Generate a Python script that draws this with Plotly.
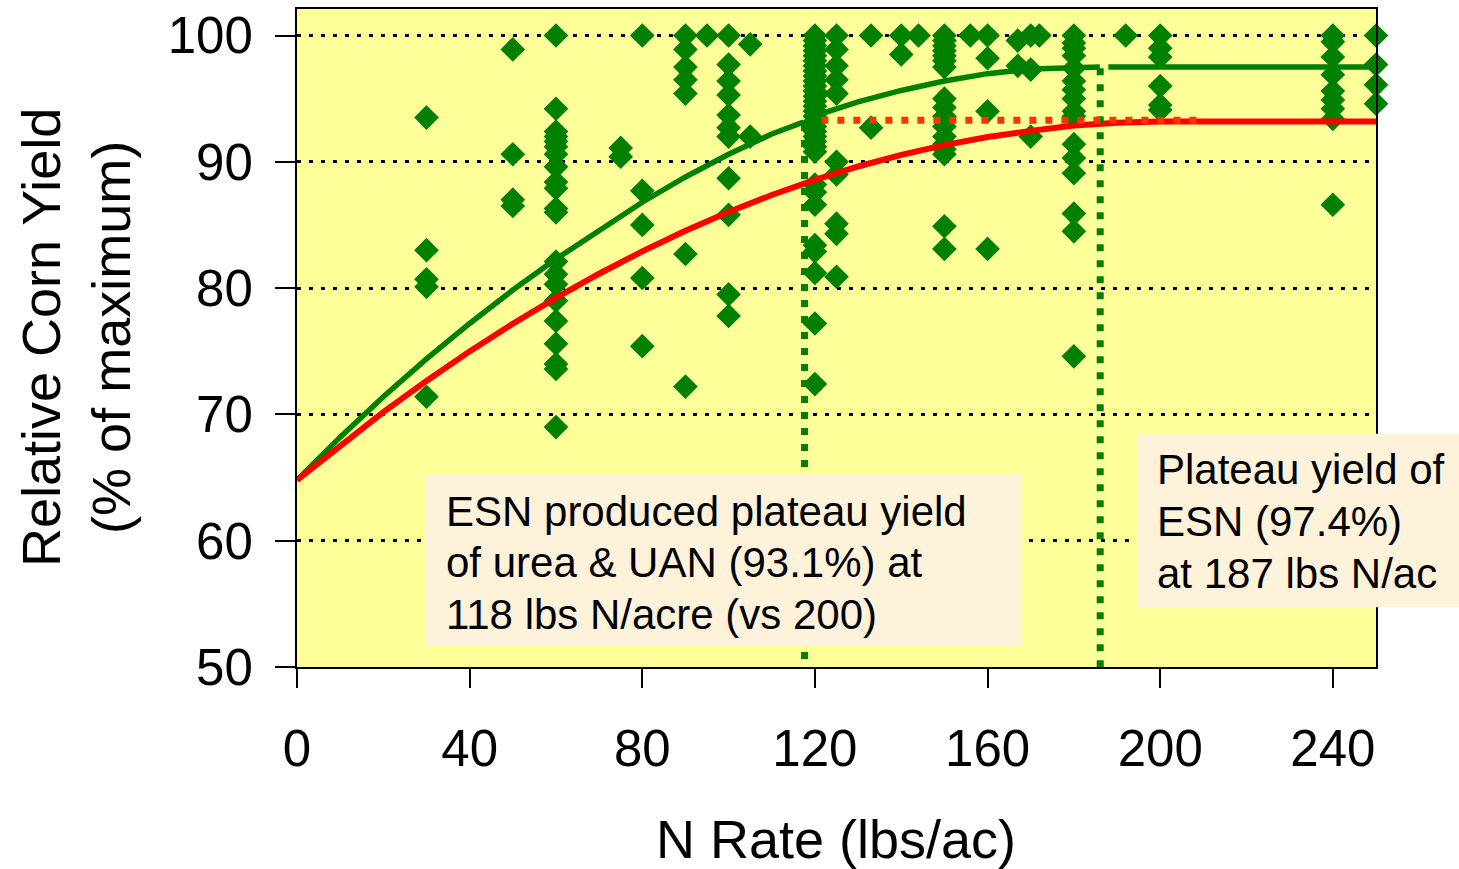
import plotly.graph_objects as go

# ---- scatter observations (N rate, relative yield %) ----
col_rates = [30, 50, 60, 75, 80, 90, 95, 100, 105, 120, 125, 133, 140, 144,
             150, 156, 160, 167, 170, 172, 180, 192, 200, 240, 250]
col_yields = [
    [93.5, 83.0, 80.7, 80.1, 71.4],
    [98.9, 90.6, 87.0, 86.5],
    [100, 94.2, 92.4, 92.0, 91.6, 91.2, 90.6, 89.6, 88.4, 87.9, 86.3, 86.0,
     82.1, 81.1, 80.3, 79.0, 77.4, 75.6, 74.0, 73.6, 69.0],
    [91.1, 90.4],
    [100, 87.7, 85.0, 80.8, 75.4],
    [100, 98.9, 97.5, 96.5, 95.4, 82.7, 72.2],
    [100],
    [100, 97.7, 96.4, 95.3, 93.7, 92.7, 92.0, 88.7, 85.8, 79.5, 77.8],
    [99.3, 92.0],
    [100, 99.6, 99.2, 98.8, 98.4, 98.0, 97.6, 97.2, 96.8, 96.4, 96.0, 95.6,
     95.2, 94.8, 94.4, 94.0, 93.6, 93.2, 92.8, 92.4, 92.0, 91.6, 91.2, 90.8,
     88.2, 87.6, 86.6, 83.4, 82.9, 81.2, 77.2, 72.4],
    [100, 98.9, 97.6, 96.5, 95.4, 90.0, 89.0, 85.1, 84.3, 80.9],
    [100, 92.7],
    [100, 98.5],
    [100],
    [100, 99.6, 99.2, 98.8, 98.4, 98.0, 97.5, 95.0, 94.3, 93.6, 92.8, 92.0,
     91.4, 91.0, 90.6, 84.9, 83.1],
    [100],
    [100, 98.2, 94.0, 83.1],
    [99.6, 97.6],
    [100, 97.3, 92.0],
    [100],
    [100, 99.4, 99.0, 98.4, 97.4, 96.4, 95.7, 95.0, 94.0, 93.6, 91.4, 90.3,
     89.1, 85.9, 84.5, 74.6],
    [100],
    [100, 99.0, 98.3, 96.0, 94.5, 94.1],
    [100, 99.5, 98.3, 96.9, 95.6, 94.9, 94.2, 93.4, 86.6],
    [100, 97.7, 96.1, 94.6],
]

# ---- fitted response curves ----
esn_x = [0, 10, 20, 30, 40, 50, 60, 70, 80, 90, 100, 110, 117, 119, 121,
         130, 140, 150, 160, 170, 180, 186, None, 188, 250]
esn_y = [64.8, 68.2, 71.4, 74.4, 77.2, 79.85, 82.3, 84.6, 86.8, 88.8, 90.6,
         92.2, 93.1, 92.85, 93.75, 94.75, 95.65, 96.4, 96.98, 97.35, 97.5, 97.5,
         None, 97.5, 97.5]
urea_x = [0, 10, 20, 30, 40, 50, 60, 70, 80, 90, 100, 110, 120, 130, 140,
          150, 160, 170, 180, 190, 200, 250]
urea_y = [64.8, 67.56, 70.18, 72.65, 74.99, 77.18, 79.23, 81.14, 82.91, 84.54,
          86.02, 87.37, 88.57, 89.63, 90.55, 91.32, 91.96, 92.45, 92.88, 93.1,
          93.2, 93.2]

# reference (drop) lines
esn_match_rate = [117.6, 117.6]
esn_match_yield = [93.0, 50]
esn_plateau_rate = [186.1, 186.1]
esn_plateau_yield = [97.4, 50]
urea_plateau_rate = [121.5, 208.5]
urea_plateau_yield = [93.3, 93.3]

x_ticks = [0, 40, 80, 120, 160, 200, 240]
y_ticks = [50, 60, 70, 80, 90, 100]

FONT = "Arial, Liberation Sans, sans-serif"
GREEN = "#008000"

sx, sy = [], []
for r, ys in zip(col_rates, col_yields):
    for v in ys:
        sx.append(r)
        sy.append(v)

fig = go.Figure()
fig.add_trace(go.Scatter(x=esn_x, y=esn_y, mode="lines",
                         line=dict(color=GREEN, width=5.5), connectgaps=False,
                         showlegend=False, hoverinfo="skip"))
fig.add_trace(go.Scatter(x=sx, y=sy, mode="markers",
                         marker=dict(symbol="diamond", size=19, color=GREEN,
                                     line=dict(width=0)),
                         showlegend=False, cliponaxis=False))
fig.add_trace(go.Scatter(x=urea_x, y=urea_y, mode="lines",
                         line=dict(color="#FF0000", width=6),
                         showlegend=False, hoverinfo="skip"))
fig.add_trace(go.Scatter(x=esn_match_rate, y=esn_match_yield, mode="lines",
                         line=dict(color=GREEN, width=7, dash="7px,9px"),
                         showlegend=False, hoverinfo="skip"))
fig.add_trace(go.Scatter(x=esn_plateau_rate, y=esn_plateau_yield, mode="lines",
                         line=dict(color=GREEN, width=7, dash="7px,9px"),
                         showlegend=False, hoverinfo="skip"))
fig.add_trace(go.Scatter(x=urea_plateau_rate, y=urea_plateau_yield, mode="lines",
                         line=dict(color="#FF3300", width=7, dash="7px,9px"),
                         showlegend=False, hoverinfo="skip", cliponaxis=False))

L, R, T, B = 297, 83, 7, 202
W, H = 1459, 869
PW, PH = W - L - R, H - T - B


def px(xp):
    return (xp - L) / PW


def py(yp):
    return (H - B - yp) / PH


BOX = "#FFF2DB"
shapes = [
    dict(type="rect", xref="paper", yref="paper", x0=px(426), x1=px(1021),
         y0=py(646), y1=py(474), fillcolor=BOX, line=dict(width=0), layer="above"),
    dict(type="rect", xref="paper", yref="paper", x0=px(1137), x1=px(1460),
         y0=py(607), y1=py(433), fillcolor=BOX, line=dict(width=0), layer="above"),
]

annotations = []
box1_lines = ["ESN produced plateau yield", "of urea &amp; UAN (93.1%) at",
              "118 lbs N/acre (vs 200)"]
for i, t in enumerate(box1_lines):
    annotations.append(dict(text=t, xref="paper", yref="paper", x=px(444),
                            y=py(511 + 51.5 * i), xanchor="left", yanchor="middle",
                            showarrow=False, font=dict(family=FONT, size=42, color="black")))
box2_lines = ["Plateau yield of", "ESN (97.4%)", "at 187 lbs N/ac"]
for i, t in enumerate(box2_lines):
    annotations.append(dict(text=t, xref="paper", yref="paper", x=px(1155),
                            y=py(469 + 52 * i), xanchor="left", yanchor="middle",
                            showarrow=False, font=dict(family=FONT, size=42, color="black")))

annotations.append(dict(text="Relative Corn Yield<br>(% of maximum)", xref="paper",
                        yref="paper", x=px(76), y=py(337), textangle=-90,
                        xanchor="center", yanchor="middle", showarrow=False,
                        font=dict(family=FONT, size=54, color="black")))
annotations.append(dict(text="N Rate (lbs/ac)", xref="paper", yref="paper",
                        x=px(836), y=py(840), xanchor="center", yanchor="middle",
                        showarrow=False, font=dict(family=FONT, size=54, color="black")))

fig.update_layout(
    width=W, height=H,
    margin=dict(l=L, r=R, t=T, b=B, pad=0),
    paper_bgcolor="white", plot_bgcolor="#FFFF99",
    shapes=shapes, annotations=annotations,
    showlegend=False,
    xaxis=dict(range=[0, 250], tickvals=x_ticks, ticks="outside", ticklen=19,
               tickwidth=2, tickcolor="black", showline=True, linecolor="black",
               linewidth=2, mirror=True, showgrid=False, zeroline=False,
               tickfont=dict(family=FONT, size=51, color="black"),
               ticklabelstandoff=17),
    yaxis=dict(range=[50, 102.1], tickvals=y_ticks, ticks="outside", ticklen=20,
               tickwidth=2, tickcolor="black", showline=True, linecolor="black",
               linewidth=2, mirror=True, showgrid=True, gridcolor="black",
               gridwidth=3, griddash="4px,8px", zeroline=False,
               tickfont=dict(family=FONT, size=51, color="black"),
               ticklabelstandoff=12),
)

fig.write_html("out.html")
